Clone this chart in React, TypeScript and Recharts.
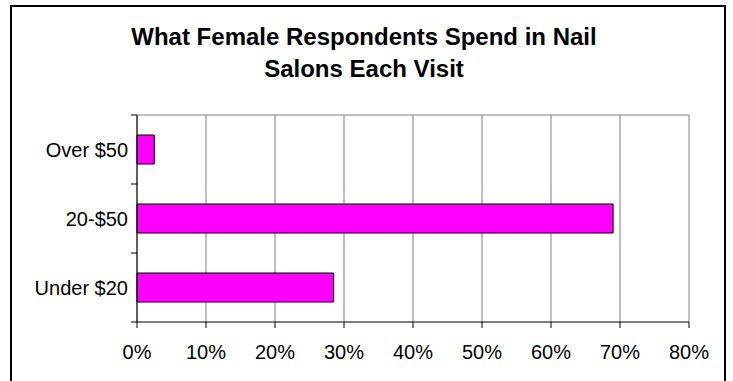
import React from "react";
import { BarChart, Bar, XAxis, YAxis, CartesianGrid } from "recharts";

const categories = ["Over $50", "20-$50", "Under $20"];
const shares = [2.5, 69, 28.5];
const pctTicks = [0, 10, 20, 30, 40, 50, 60, 70, 80];

const data = categories.map((name, i) => ({ name, share: shares[i] }));

const font = "'Liberation Sans', Arial, sans-serif";

// label plus a tick mark on each band edge (Excel style category ticks)
const CategoryTick = (props: any) => {
	const { x, y, payload } = props;
	const half = payload.offset ?? 0;
	const isLast = payload.value === categories[categories.length - 1];
	return (
		<g>
			<line x1={x - 6} x2={x} y1={y - half} y2={y - half} stroke="#000" />
			{isLast && (
				<line x1={x - 6} x2={x} y1={y + half} y2={y + half} stroke="#000" />
			)}
			<text
				x={x - 9}
				y={y}
				dy="0.355em"
				textAnchor="end"
				fill="#000"
				fontSize={20}
				fontFamily={font}
			>
				{payload.value}
			</text>
		</g>
	);
};

export default function App() {
	return (
		<div
			style={{
				position: "absolute",
				left: 0,
				top: 0,
				width: 733,
				height: 381,
				overflow: "hidden",
				background: "#fff",
				fontFamily: font,
			}}
		>
			<div
				style={{
					position: "absolute",
					left: 10,
					top: 5,
					width: 716,
					height: 420,
					borderTop: "2px solid #000",
					borderLeft: "2px solid #000",
					borderRight: "2px solid #000",
					boxSizing: "border-box",
				}}
			/>
			<div
				style={{
					position: "absolute",
					left: 0,
					top: 21,
					width: 728,
					textAlign: "center",
					fontSize: 24,
					fontWeight: "bold",
					lineHeight: "31.7px",
					color: "#000",
				}}
			>
				What Female Respondents Spend in Nail
				<br />
				Salons Each Visit
			</div>
			<div style={{ position: "absolute", left: 0, top: 0 }}>
				<BarChart
					width={733}
					height={381}
					data={data}
					layout="vertical"
					barCategoryGap="29%"
					margin={{ top: 115, right: 44, bottom: 19, left: 12 }}
					style={{ fontFamily: font }}
				>
					<CartesianGrid
						vertical={true}
						horizontal={true}
						horizontalCoordinatesGenerator={({ offset }: any) => [offset.top]}
						stroke="#808080"
					/>
					<XAxis
						type="number"
						dataKey="share"
						domain={[0, 80]}
						ticks={pctTicks}
						tickFormatter={(v) => `${v}%`}
						height={40}
						tickSize={6}
						tickMargin={17}
						axisLine={{ stroke: "#000" }}
						tickLine={{ stroke: "#000" }}
						tick={{ fill: "#000", fontSize: 20 }}
						interval={0}
					/>
					<YAxis
						type="category"
						dataKey="name"
						width={125}
						tickSize={0}
						tickMargin={0}
						tickLine={false}
						axisLine={{ stroke: "#000" }}
						tick={<CategoryTick />}
						interval={0}
					/>
					<Bar
						dataKey="share"
						fill="#FF00FF"
						stroke="#000"
						strokeWidth={1}
						isAnimationActive={false}
					/>
				</BarChart>
			</div>
		</div>
	);
}
